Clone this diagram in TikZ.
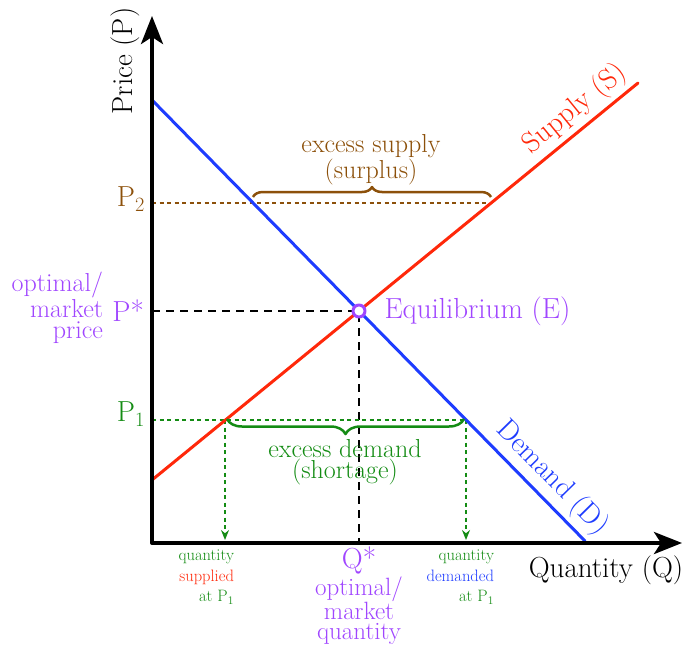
\documentclass[tikz,border=0pt]{standalone}
\usetikzlibrary{arrows.meta,calc,decorations.pathreplacing,positioning}
\definecolor{fg}{RGB}{0,0,0}
\definecolor{dem}{RGB}{30,60,255}
\definecolor{sup}{RGB}{255,40,10}
\definecolor{opt}{RGB}{160,70,255}
\definecolor{surp}{RGB}{140,80,10}
\definecolor{short}{RGB}{20,140,20}
\tikzset{
  every picture/.style={fg, line width=2pt, line join=round, x=1pt, y=-1pt},
  every node/.style={inner sep=0pt},
  % Linien
  axis/.style={line width=4pt, {Stealth[length=28pt,width=22pt,inset=7pt]}-{Stealth[length=28pt,width=22pt,inset=7pt]}},
  curve/.style={line width=3pt, line cap=round},
  aux/.style={line width=2.5pt, dash pattern=on 8pt off 6pt},
  dotl/.style={line width=2pt, dash pattern=on 4pt off 3.5pt},
  drop/.style={dotl, -{Stealth[length=10pt,width=8pt]}},
  brc/.style={line width=2.5pt, decorate, decoration={brace, amplitude=#1}},
  brc/.default=10pt,
  % Schrift
  big/.style={font=\fontsize{29}{30}\selectfont},
  mid/.style={font=\fontsize{26}{21}\selectfont, align=center},
  small/.style={font=\fontsize{16.5}{20.5}\selectfont, align=right},
}
\begin{document}
\begin{tikzpicture}
  \useasboundingbox (0,0) rectangle (683,646);
  \coordinate (O) at (152,543);
  \coordinate (ytop) at (152,16);
  \coordinate (xend) at (682,543);
  % Nachfrage d, Angebot s, Gleichgewicht E
  \coordinate (d1) at (152,100); \coordinate (d2) at (585,541);
  \coordinate (s1) at (152,480); \coordinate (s2) at (638,83);
  \coordinate (E) at (359,311);
  % Schnittpunkte bei P2 und P1
  \coordinate (p2d) at (253,203); \coordinate (p2s) at (491,203);
  \coordinate (p1s) at (225,420); \coordinate (p1d) at (466,420);
  % Hilfslinien
  \draw[aux] (O |- E) -- (E) -- (E |- O);
  \draw[dotl, surp] (O |- p2s) -- (p2s);
  \draw[dotl, short] (O |- p1d) -- (p1d);
  \foreach \q in {p1s, p1d}
    \draw[drop, short] (\q) -- ($(\q |- O)+(0,-3)$);
  % Kurven und Achsen
  \draw[curve, dem] (d1) -- (d2);
  \draw[curve, sup] (s1) -- (s2);
  \draw[axis] (ytop) -- (O) -- (xend);
  \node[circle, draw=opt, fill=white, line width=3pt, minimum size=12pt] (eq) at (E) {};
  % Klammern
  \draw[brc=10pt, surp] ($(p2d)+(0,-6)$) -- ($(p2s)+(0,-6)$);
  \draw[brc=15pt, short] ($(p1d)+(-2,-1)$) -- ($(p1s)+(2,-1)$);
  \node[mid, surp] (surlab) at (371,160) {excess supply\\(surplus)};
  \node[mid, short] (shlab) at (345,462) {excess demand\\(shortage)};
  % Beschriftung
  \node[big, rotate=90] (ylab) at (125,61) {Price (P)};
  \node[big] (xlab) at (606,570) {Quantity (Q)};
  \node[big, sup, rotate=39.2] (slab) at (575,109) {Supply (S)};
  \node[big, dem, rotate=-45.5] (dlab) at (552,478) {Demand (D)};
  \node[big, opt, right=17pt of eq] (eqlab) {Equilibrium (E)};
  \node[big, surp, anchor=east] (p2lab) at (146,199) {P\textsubscript{2}};
  \node[big, opt, anchor=east] (pslab) at (145,311) {P*};
  \node[big, short, anchor=east] (p1lab) at (146,414) {P\textsubscript{1}};
  \node[mid, opt, align=right, anchor=east] (pstxt) at (104,308) {optimal/\\market\\price};
  \node[big, opt] (qslab) at (359,560) {Q*};
  \node[mid, opt, font=\fontsize{25}{20}\selectfont, below=1pt of qslab] (qstxt) {optimal/\\market\\quantity};
  \node[small, anchor=north east] (qsup) at (235,549)
    {\textcolor{short}{quantity}\\\textcolor{sup}{supplied}\\\textcolor{short}{at P\textsubscript{1}}};
  \node[small, anchor=north east] (qdem) at (495,549)
    {\textcolor{short}{quantity}\\\textcolor{dem}{demanded}\\\textcolor{short}{at P\textsubscript{1}}};
\end{tikzpicture}
\end{document}
